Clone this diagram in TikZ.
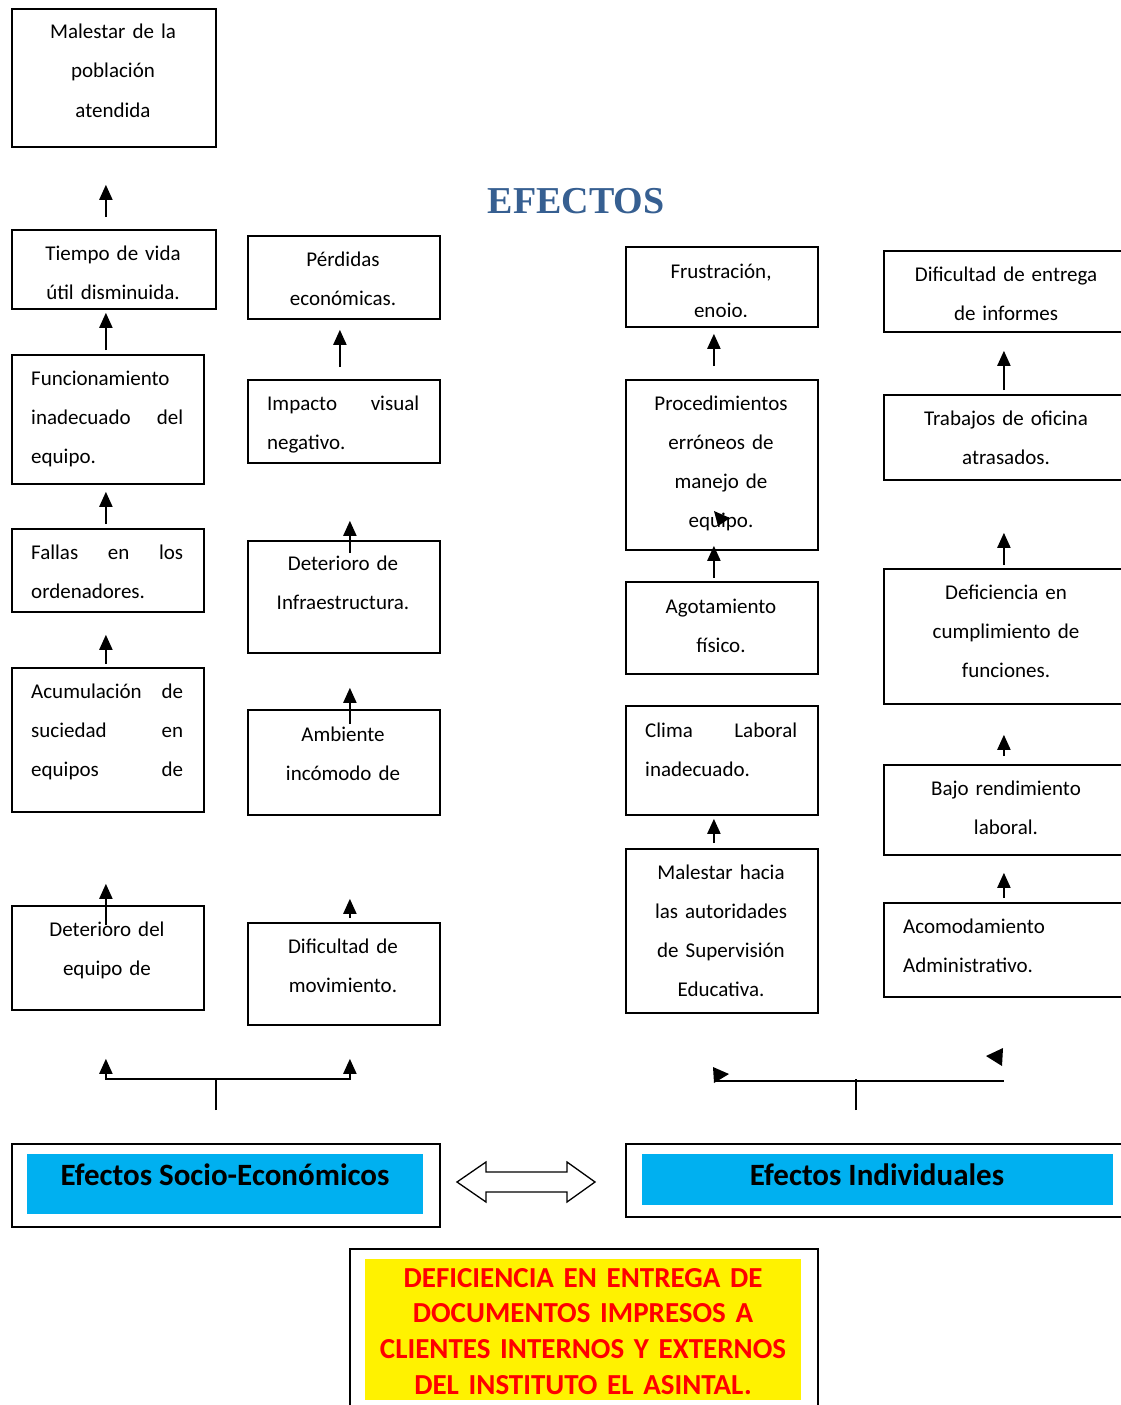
\documentclass[tikz,border=0pt]{standalone}
\usepackage{fontspec}
\setmainfont{Carlito}
\newfontfamily\titlefont{Liberation Serif}
\usetikzlibrary{arrows.meta}

\definecolor{efcyan}{RGB}{0,176,240}
\definecolor{eftitle}{RGB}{54,95,145}

\tikzset{
  ebox/.style={draw, line width=1.8pt, anchor=north west, inner sep=0pt},
  efill/.style={fill=#1, anchor=north west, inner sep=0pt},
  etxt/.style={anchor=base, align=center, text width=240pt, inner sep=0pt, font=\fontsize{21}{39}\selectfont},
  jtxt/.style={anchor=base west, align=left, text width=152pt, inner sep=0pt, font=\fontsize{21}{39}\selectfont},
  arr/.style={line width=2pt, -{Triangle[length=15pt,width=13pt]}},
  ln/.style={line width=2pt},
}

\begin{document}
\begin{tikzpicture}[x=1pt,y=-1pt]
\useasboundingbox (0,0) rectangle (1120,1405);

\node[font=\titlefont\bfseries\fontsize{38}{40}\selectfont, text=eftitle, anchor=base] (tit) at (576,213) {EFECTOS};

% columna 1
\node[ebox, minimum width=204pt, minimum height=138pt] (mal) at (11,8) {};
\node[etxt] (malT) at (113,39) {Malestar de la\\población\\atendida};
\node[ebox, minimum width=204pt, minimum height=79pt] (tie) at (11,229) {};
\begin{scope}
  \clip (tie.north west) rectangle ([yshift=10pt]tie.south east);
  \node[etxt] (tieT) at (113,260) {Tiempo de vida\\útil disminuida.};
\end{scope}
\node[ebox, minimum width=192pt, minimum height=129pt] (fun) at (11,354) {};
\node[jtxt] (funT) at (31,385) {Funcionamiento\\inadecuado\hfill del\\equipo.};
\node[ebox, minimum width=192pt, minimum height=83pt] (fal) at (11,528) {};
\node[jtxt] (falT) at (31,559) {Fallas\hfill en\hfill los\\ordenadores.};
\node[ebox, minimum width=192pt, minimum height=144pt] (acu) at (11,667) {};
\node[jtxt] (acuT) at (31,698) {Acumulación\hfill de\\suciedad\hfill en\\equipos\hfill de};
\node[ebox, minimum width=192pt, minimum height=104pt] (dte) at (11,905) {};
\node[etxt] (dteT) at (107,936) {Deterioro del\\equipo de};

% columna 2
\node[ebox, minimum width=192pt, minimum height=83pt] (per) at (247,235) {};
\node[etxt] (perT) at (343,266) {Pérdidas\\económicas.};
\node[ebox, minimum width=192pt, minimum height=83pt] (imp) at (247,379) {};
\node[jtxt] (impT) at (267,410) {Impacto\hfill visual\\negativo.};
\node[ebox, minimum width=192pt, minimum height=112pt] (din) at (247,540) {};
\node[etxt] (dinT) at (343,570) {Deterioro de\\Infraestructura.};
\node[ebox, minimum width=192pt, minimum height=105pt] (amb) at (247,709) {};
\node[etxt] (ambT) at (343,741) {Ambiente\\incómodo de};
\node[ebox, minimum width=192pt, minimum height=102pt] (dmo) at (247,922) {};
\node[etxt] (dmoT) at (343,953) {Dificultad de\\movimiento.};

% columna 3
\node[ebox, minimum width=192pt, minimum height=80pt] (fru) at (625,246) {};
\begin{scope}
  \clip (fru.north west) rectangle ([yshift=11pt]fru.south east);
  \node[etxt] (fruT) at (721,278) {Frustración,\\enojo.};
\end{scope}
\node[ebox, minimum width=192pt, minimum height=170pt] (pro) at (625,379) {};
\node[etxt] (proT) at (721,410) {Procedimientos\\erróneos de\\manejo de\\equipo.};
\node[ebox, minimum width=192pt, minimum height=92pt] (ago) at (625,581) {};
\node[etxt] (agoT) at (721,613) {Agotamiento\\físico.};
\node[ebox, minimum width=192pt, minimum height=109pt] (cli) at (625,705) {};
\node[jtxt] (cliT) at (645,737) {Clima\hfill Laboral\\inadecuado.};
\node[ebox, minimum width=192pt, minimum height=164pt] (mah) at (625,848) {};
\node[etxt] (mahT) at (721,879) {Malestar hacia\\las autoridades\\de Supervisión\\Educativa.};

% columna 4
\node[ebox, minimum width=246pt, minimum height=81pt] (die) at (883,250) {};
\node[etxt] (dieT) at (1006,281) {Dificultad de entrega\\de informes};
\node[ebox, minimum width=246pt, minimum height=85pt] (tra) at (883,394) {};
\node[etxt] (traT) at (1006,425) {Trabajos de oficina\\atrasados.};
\node[ebox, minimum width=246pt, minimum height=135pt] (dcf) at (883,568) {};
\node[etxt] (dcfT) at (1006,599) {Deficiencia en\\cumplimiento de\\funciones.};
\node[ebox, minimum width=246pt, minimum height=90pt] (baj) at (883,764) {};
\node[etxt] (bajT) at (1006,795) {Bajo rendimiento\\laboral.};
\node[ebox, minimum width=246pt, minimum height=94pt] (aco) at (883,902) {};
\node[jtxt, text width=220pt] (acoT) at (903,933) {Acomodamiento\\Administrativo.};

% flechas
\draw[arr] ([shift={(-8,-12)}]tie.north) -- ([shift={(-8,37)}]mal.south);
\draw[arr] ([shift={(-2,-4)}]fun.north) -- ([shift={(-8,3)}]tie.south);
\draw[arr] ([shift={(-2,-4)}]fal.north) -- ([shift={(-2,7)}]fun.south);
\draw[arr] ([shift={(-2,-3)}]acu.north) -- ([shift={(-2,22)}]fal.south);
\draw[arr] ([shift={(-2,20)}]dte.north) -- ([shift={(-2,71)}]acu.south);

\draw[arr] ([shift={(-4,-12)}]imp.north) -- ([shift={(-4,10)}]per.south);
\draw[arr] ([shift={(6,13)}]din.north) -- ([shift={(6,57)}]imp.south);
\draw[arr] ([shift={(6,15)}]amb.north) -- ([shift={(6,34)}]din.south);
\draw[arr] ([shift={(6,-4)}]dmo.north) -- ([shift={(6,83)}]amb.south);

\draw[arr] ([shift={(-8,-13)}]pro.north) -- ([shift={(-8,6)}]fru.south);
\draw[arr] ([shift={(-8,-3)}]ago.north) -- ([shift={(-8,-5)}]pro.south);
\draw[arr] ([shift={(-8,-5)}]mah.north) -- ([shift={(-8,3)}]cli.south);
\fill (714,511) -- (730,518) -- (718,526) -- cycle;

\draw[arr] ([shift={(-3,-4)}]tra.north) -- ([shift={(-3,18)}]die.south);
\draw[arr] ([shift={(-3,-3)}]dcf.north) -- ([shift={(-3,52)}]tra.south);
\draw[arr] ([shift={(-3,-8)}]baj.north) -- ([shift={(-3,30)}]dcf.south);
\draw[arr] ([shift={(-3,-4)}]aco.north) -- ([shift={(-3,17)}]baj.south);

% recuadros de abajo
\node[ebox, minimum width=428pt, minimum height=83pt] (soc) at (11,1143) {};
\node[efill=efcyan, minimum width=396pt, minimum height=60pt] (socF) at (27,1154) {};
\node[font=\bfseries\fontsize{31}{36}\selectfont, anchor=base] (socT) at (225,1185) {Efectos Socio-Económicos};

\node[ebox, minimum width=505pt, minimum height=73pt] (ind) at (625,1143) {};
\node[efill=efcyan, minimum width=471pt, minimum height=51pt] (indF) at (642,1154) {};
\node[font=\bfseries\fontsize{31}{36}\selectfont, anchor=base] (indT) at (877,1185) {Efectos Individuales};

\draw[line width=1.3pt] (457,1182) -- (486,1162) -- (486,1172) -- (567,1172) -- (567,1162)
  -- (595,1182) -- (567,1202) -- (567,1192) -- (486,1192) -- (486,1202) -- cycle;

\node[ebox, minimum width=468pt, minimum height=170pt] (def) at (349,1248) {};
\node[efill=yellow, minimum width=436pt, minimum height=141pt] (defF) at (365,1259) {};
\node[font=\bfseries\fontsize{29}{35.7}\selectfont, text=red, align=center, anchor=base, text width=440pt, inner sep=0pt] (defT) at (583,1287)
  {DEFICIENCIA EN ENTREGA DE\\DOCUMENTOS IMPRESOS A\\CLIENTES INTERNOS Y EXTERNOS\\DEL INSTITUTO EL ASINTAL.};

% conectores inferiores
\coordinate (socJ) at ([shift={(-10,-64)}]soc.north);
\draw[ln] ([shift={(-10,-33)}]soc.north) -- (socJ);
\draw[arr] (socJ) -| ([shift={(-2,48)}]dte.south);
\draw[arr] (socJ) -| ([shift={(6,33)}]dmo.south);

\coordinate (indJ) at ([shift={(-22.5,-64)}]ind.north);
\draw[ln] ([shift={(-22.5,-33)}]ind.north) -- (indJ);
\draw[ln] ([shift={(-8,67)}]mah.south) -- ([shift={(-3,83)}]aco.south);
\fill (713,1067) -- (729,1074) -- (714,1083) -- cycle;
\fill (1003,1048) -- (986,1056) -- (1002,1066) -- cycle;
\end{tikzpicture}
\end{document}
